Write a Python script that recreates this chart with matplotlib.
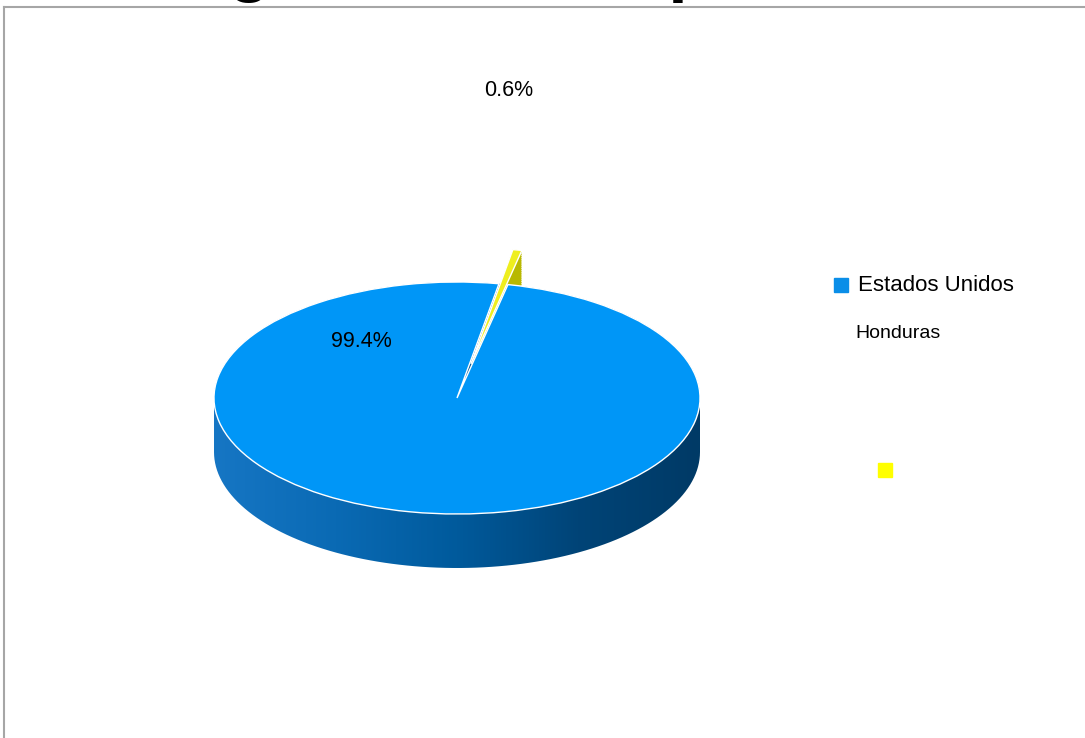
# -*- coding: utf-8 -*-
# pastel 3D: Estados Unidos / Honduras

import numpy as np
import matplotlib.pyplot as plt
from matplotlib.path import Path
from matplotlib.colors import LinearSegmentedColormap

plt.rcParams['font.family'] = ['Liberation Sans', 'DejaVu Sans']

titulo = 'Origen de las importaciones'
paises = ['Estados Unidos', 'Honduras']
porcentajes = [99.4, 0.6]
colores = ['#0096F7', '#EEEE1E']
color_lado_hn = '#B8B800'
color_leyenda = ['#0A8EE8', '#FFFF00']

# geometria en pixeles de la imagen
W, H = 1085, 738
cx, cy = 457, 398      # centro de la elipse
ra, rb = 243, 116      # semiejes
prof = 54 / rb         # grosor del pastel (en unidades y)

def px(x, y):
    # pixel -> coordenadas de datos
    return (x - cx) / ra, (cy - y) / rb

fig = plt.figure(figsize=(W / 100, H / 100), dpi=100)
ax = fig.add_axes([0, 0, 1, 1])

# lado del pastel con degradado
grad = LinearSegmentedColormap.from_list(
    'lado', ['#1676c4', '#0a6ab4', '#005a9c', '#004477', '#003a66'])
img = ax.imshow(np.linspace(0, 1, 256).reshape(1, -1), cmap=grad,
                aspect='auto', extent=[-1, 1, -1 - prof, 1], zorder=1)
t1 = np.linspace(0, np.pi, 100)
t2 = np.linspace(np.pi, 2 * np.pi, 100)
verts = np.concatenate([np.c_[np.cos(t1), np.sin(t1)],
                        np.c_[np.cos(t2), np.sin(t2) - prof],
                        [[1, 0]]])
codes = [Path.MOVETO] + [Path.LINETO] * (len(verts) - 2) + [Path.CLOSEPOLY]
img.set_clip_path(Path(verts, codes), transform=ax.transData)

explode = [0, 0.3]
inicio = 77.9

# lado de la porcion de Honduras
for d in np.linspace(prof, 0, 30):
    ax.pie(porcentajes, explode=explode, startangle=inicio, counterclock=False,
           center=(0, -d), colors=['none', color_lado_hn],
           wedgeprops=dict(linewidth=0, zorder=2))

# cara superior
ax.pie(porcentajes, explode=explode, startangle=inicio, counterclock=False,
       colors=colores, wedgeprops=dict(edgecolor='white', linewidth=1, zorder=3))

ax.set_aspect('auto')
x0, y0 = px(0, H)
x1, y1 = px(W, 0)
ax.set_xlim(x0, x1)
ax.set_ylim(y0, y1)
ax.axis('off')

# etiquetas de datos
etiquetas = ['%.1f%%' % v for v in porcentajes]
ax.text(*px(361, 341), etiquetas[0], fontsize=15.5, ha='center', va='center', zorder=5)
ax.text(*px(509, 91), etiquetas[1], fontsize=15.5, ha='center', va='center', zorder=5)

# leyenda
ax.plot(*px(841, 285), 's', ms=10, color=color_leyenda[0], zorder=5)
ax.text(*px(858, 285), paises[0], fontsize=16, ha='left', va='center', zorder=5)
ax.text(*px(855, 333), paises[1], fontsize=14, ha='left', va='center', zorder=5)
ax.plot(*px(885, 470), 's', ms=9.5, color=color_leyenda[1], zorder=5)

# borde del area del grafico
ax.plot(*zip(px(4, 7), px(W + 5, 7)), color='#a6a6a6', lw=1.5, clip_on=False)
ax.plot(*zip(px(4, 7), px(4, H + 5)), color='#a6a6a6', lw=1.5, clip_on=False)

# titulo (recortado arriba, como en el original)
fig.text(128 / W, 1 + 11 / H, titulo, fontsize=50, fontweight='bold',
         ha='left', va='baseline')

fig.savefig('out.png', dpi=100)
